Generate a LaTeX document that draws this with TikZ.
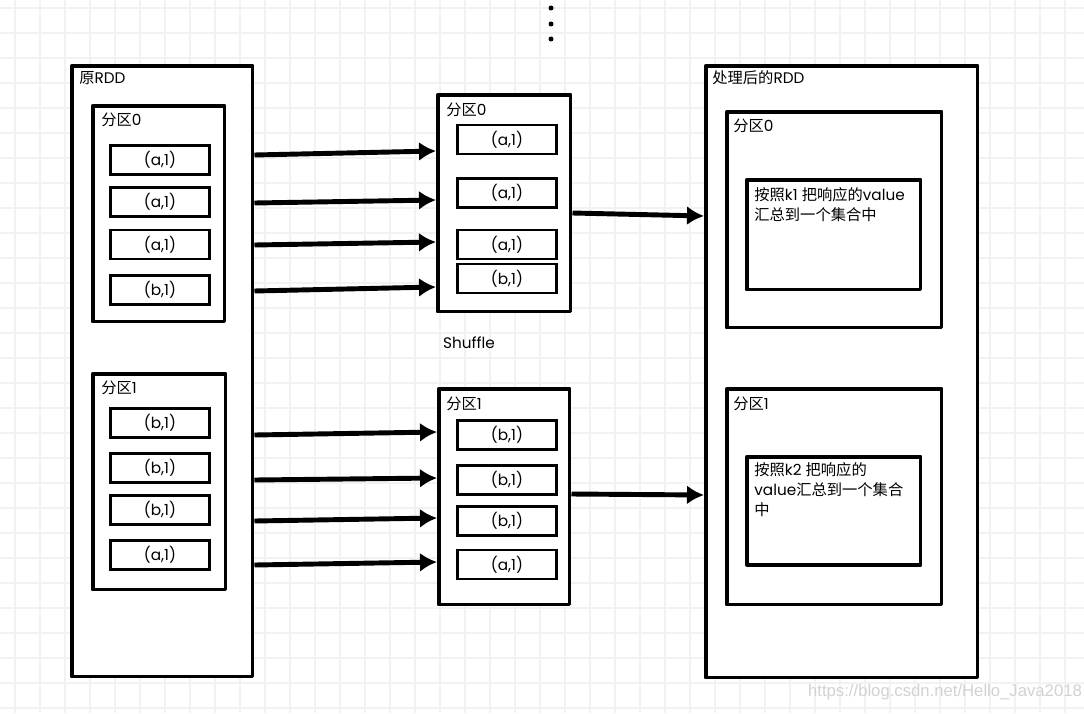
\documentclass[tikz,border=0pt]{standalone}
\usepackage{fontspec}
\setmainfont{Poppins}
\newfontfamily\cjk{Noto Sans CJK SC}
\newfontfamily\wmfont{Liberation Sans}
\usetikzlibrary{arrows.meta}
\newcommand{\fq}{{\cjk 分区}}

\begin{document}
\begin{tikzpicture}[x=0.02cm, y=-0.02cm, every node/.style={font=\fontsize{8.7}{11.4}\selectfont, inner sep=0pt}, >={Latex[length=3.4mm,width=3.8mm]},
	box/.style={draw, line width=2pt, fill=white, anchor=north west, line join=round},
	item/.style={draw, line width=1.5pt, fill=white, minimum width=1.98cm, minimum height=0.58cm},
	flow/.style={->, line width=2.8pt},
	tag/.style={anchor=west},
	gridline/.style={draw=gray!10, line width=0.7pt}]
	\useasboundingbox (0,0) rectangle (1084,713);
	\fill[white] (0,0) rectangle (1084,713);
	\foreach \x in {15,40,...,1084} \draw[gridline] (\x,0) -- (\x,713);
	\foreach \y in {8,33,...,713} \draw[gridline] (0,\y) -- (1084,\y);
	\fill (551,8) circle[radius=0.05cm];
	\fill (551,24) circle[radius=0.05cm];
	\fill (551,39) circle[radius=0.05cm];
	% source RDD
	\node[box, minimum width=3.62cm, minimum height=12.22cm] (orig) at (70,64) {};
	\node[tag] (origlbl) at (79,78) {{\cjk 原}RDD};
	\node[box, minimum width=2.64cm, minimum height=4.32cm] (o0) at (91,104) {};
	\node[tag] (o0lbl) at (101,120) {\fq0};
	\node[item] (o0a) at (160,160) {(a,1)};
	\node[item] (o0b) at (160,202) {(a,1)};
	\node[item] (o0c) at (160,244.5) {(a,1)};
	\node[item] (o0d) at (160,290) {(b,1)};
	\node[box, minimum width=2.66cm, minimum height=4.32cm] (o1) at (91,372) {};
	\node[tag] (o1lbl) at (101,388) {\fq1};
	\node[item] (o1a) at (160,423) {(b,1)};
	\node[item] (o1b) at (160,468) {(b,1)};
	\node[item] (o1c) at (160,510) {(b,1)};
	\node[item] (o1d) at (160,555) {(a,1)};
	% after shuffle
	\node[box, minimum width=2.66cm, minimum height=4.34cm] (m0) at (436,93) {};
	\node[tag] (m0lbl) at (446,110) {\fq0};
	\node[item] (m0a) at (507,139.5) {(a,1)};
	\node[item] (m0b) at (507,193) {(a,1)};
	\node[item] (m0c) at (507,244.5) {(a,1)};
	\node[item] (m0d) at (507,278.5) {(b,1)};
	\node[box, minimum width=2.62cm, minimum height=4.32cm] (m1) at (437,387) {};
	\node[tag] (m1lbl) at (446,404) {\fq1};
	\node[item] (m1a) at (507,435) {(b,1)};
	\node[item] (m1b) at (507,480) {(b,1)};
	\node[item] (m1c) at (507,521) {(b,1)};
	\node[item] (m1d) at (507,564.5) {(a,1)};
	\node (shuf) at (469,343) {Shuffle};
	% result RDD
	\node[box, minimum width=5.44cm, minimum height=12.24cm] (res) at (704,64) {};
	\node[tag] (reslbl) at (712,78) {{\cjk 处理后的}RDD};
	\node[box, minimum width=4.30cm, minimum height=4.32cm] (r0) at (725,110) {};
	\node[tag] (r0lbl) at (733,126) {\fq0};
	\node[box, minimum width=3.48cm, minimum height=2.20cm] (r0in) at (745,178) {};
	\node[anchor=north west, align=left] (r0txt) at (754,187) {{\cjk 按照}k1 {\cjk 把响应的}value\\{\cjk 汇总到一个集合中}};
	\node[box, minimum width=4.30cm, minimum height=4.32cm] (r1) at (725,387) {};
	\node[tag] (r1lbl) at (733,404) {\fq1};
	\node[box, minimum width=3.48cm, minimum height=2.16cm] (r1in) at (745,455) {};
	\node[anchor=north west, align=left] (r1txt) at (754,462) {{\cjk 按照}k2 {\cjk 把响应的}\\value{\cjk 汇总到一个集合}\\{\cjk 中}};
	% connectors
	\foreach \ya/\yb [count=\i] in {155/151, 203/200, 245/242, 291/287} {
		\coordinate (p\i) at (0,\ya);
		\coordinate (q\i) at (0,\yb);
		\draw[flow] (orig.east |- p\i) -- (m0.west |- q\i);
	}
	\foreach \ya/\yb [count=\i] in {435/432, 480/478, 521/518, 565/562} {
		\coordinate (s\i) at (0,\ya);
		\coordinate (t\i) at (0,\yb);
		\draw[flow] (orig.east |- s\i) -- (m1.west |- t\i);
	}
	\coordinate (u0) at (0,213);
	\coordinate (v0) at (0,216);
	\coordinate (u1) at (0,494);
	\coordinate (v1) at (0,495);
	\draw[flow] (m0.east |- u0) -- (res.west |- v0);
	\draw[flow] (m1.east |- u1) -- (res.west |- v1);
	\node[font=\wmfont\fontsize{9.5}{11}\selectfont, text=gray!35] (wm) at (945,692) {https://blog.csdn.net/Hello\_Java2018};
\end{tikzpicture}
\end{document}
